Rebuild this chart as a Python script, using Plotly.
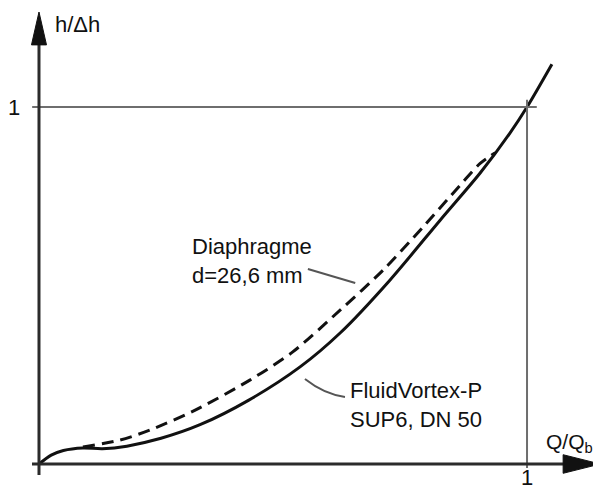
import plotly.graph_objects as go

# ---- data ----
solid_x = [0, 0.025, 0.05, 0.09, 0.13, 0.18, 0.25, 0.33, 0.43, 0.535, 0.617, 0.719, 0.822, 0.904, 0.965, 1.0, 1.051]
solid_y = [0, 0.025, 0.038, 0.045, 0.043, 0.050, 0.072, 0.110, 0.179, 0.272, 0.367, 0.515, 0.683, 0.815, 0.927, 1.0, 1.12]

dash_x = [0.09, 0.166, 0.227, 0.316, 0.432, 0.52, 0.617, 0.705, 0.787, 0.863, 0.904, 0.935]
dash_y = [0.048, 0.067, 0.095, 0.148, 0.235, 0.314, 0.431, 0.543, 0.664, 0.781, 0.842, 0.872]

series_names = ["FluidVortex-P<br>SUP6, DN 50", "Diaphragme<br>d=26,6 mm"]
tick_labels = ["1", "1"]
axis_titles = ["Q/Q<sub>b</sub>", "h/Δh"]

# the page body has an 8px margin, so the figure is 8px smaller and the ranges
# are chosen so that the drawing lands where the reference has it
X0, X1 = -0.0635, 1.1516
Y0, Y1 = -0.0784, 1.2773

FONT = "Liberation Sans, Arial, sans-serif"
AX = "#2b2b2b"
GRID = "#6e6e6e"

fig = go.Figure()
fig.add_trace(go.Scatter(x=solid_x, y=solid_y, mode="lines",
                         line=dict(color="#111111", width=3, shape="spline", smoothing=0.8),
                         name="FluidVortex-P", hoverinfo="skip"))
fig.add_trace(go.Scatter(x=dash_x, y=dash_y, mode="lines",
                         line=dict(color="#111111", width=3, dash="12px,7px", shape="spline", smoothing=0.8),
                         name="Diaphragme", hoverinfo="skip"))

shapes = []
# grid lines at 1
shapes.append(dict(type="line", x0=-0.014, x1=1.02, y0=1, y1=1, line=dict(color=GRID, width=2)))
shapes.append(dict(type="line", x0=1, x1=1, y0=1.02, y1=-0.011, line=dict(color=GRID, width=2)))
# axes
shapes.append(dict(type="line", x0=0, x1=0, y0=-0.031, y1=1.18, line=dict(color=AX, width=3)))
shapes.append(dict(type="line", x0=-0.0143, x1=1.08, y0=0, y1=0, line=dict(color=AX, width=3)))
# arrowheads
shapes.append(dict(type="path", path="M -0.0154 1.174 L 0 1.266 L 0.0154 1.174 Z",
                   fillcolor="#111111", line=dict(color="#111111", width=1)))
shapes.append(dict(type="path", path="M 1.074 -0.026 L 1.150 0 L 1.074 0.026 Z",
                   fillcolor="#111111", line=dict(color="#111111", width=1)))
# leader lines
shapes.append(dict(type="line", x0=0.551, y0=0.546, x1=0.648, y1=0.507, line=dict(color="#555555", width=2)))
shapes.append(dict(type="path", path="M 0.545 0.238 Q 0.585 0.195 0.627 0.188",
                   line=dict(color="#555555", width=2)))

ann = []
ann.append(dict(x=0.309, y=0.569, text=series_names[1], showarrow=False, xanchor="left", yanchor="middle",
                align="left", font=dict(family=FONT, size=22, color="#111")))
ann.append(dict(x=0.633, y=0.166, text=series_names[0], showarrow=False, xanchor="left", yanchor="middle",
                align="left", font=dict(family=FONT, size=22, color="#111")))
ann.append(dict(x=-0.0512, y=1, text=tick_labels[1], showarrow=False, xanchor="center", yanchor="middle",
                font=dict(family=FONT, size=22, color="#111")))
ann.append(dict(x=1, y=Y0, text=tick_labels[0], showarrow=False, xanchor="center", yanchor="bottom",
                font=dict(family=FONT, size=22, color="#111")))
ann.append(dict(x=0.0287, y=1.2297, text=axis_titles[1], showarrow=False, xanchor="left", yanchor="middle",
                font=dict(family=FONT, size=22, color="#111")))
ann.append(dict(x=1.14, y=0.058, text=axis_titles[0], showarrow=False, xanchor="right", yanchor="middle",
                font=dict(family=FONT, size=21, color="#111")))

fig.update_layout(
    width=593, height=484,
    margin=dict(l=0, r=0, t=0, b=0),
    paper_bgcolor="white", plot_bgcolor="white",
    showlegend=False,
    xaxis=dict(range=[X0, X1], visible=False, fixedrange=True),
    yaxis=dict(range=[Y0, Y1], visible=False, fixedrange=True),
    shapes=shapes, annotations=ann,
)
fig.write_html("out.html")
